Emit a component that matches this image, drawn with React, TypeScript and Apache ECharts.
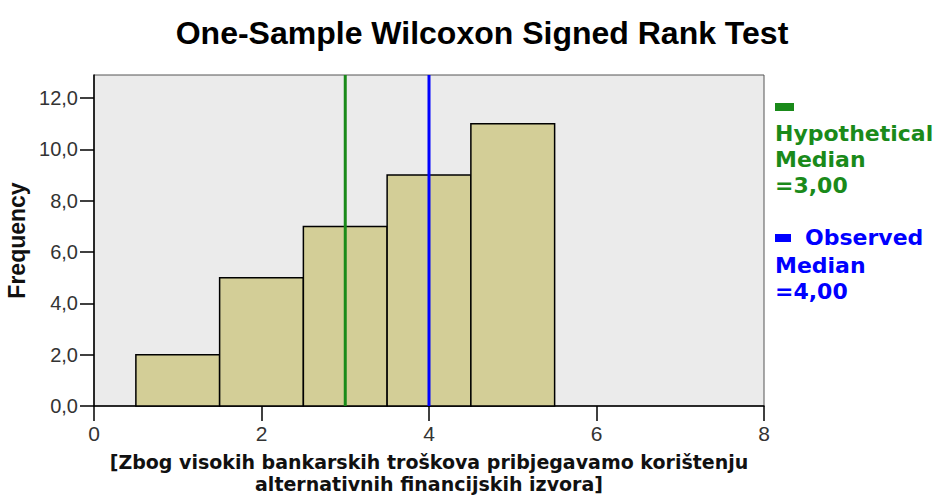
import React, { useEffect, useRef } from "react";
import * as echarts from "echarts";

const binCenters = [1, 2, 3, 4, 5];
const frequencies = [2, 5, 7, 9, 11];
const binWidth = 1;
const hypotheticalMedian = 3;
const observedMedian = 4;
const yTickValues = [0, 2, 4, 6, 8, 10, 12];
const xTickValues = [0, 2, 4, 6, 8];
const yMax = 12.9;
const xMax = 8;
const titleText = "One-Sample Wilcoxon Signed Rank Test";
const xAxisName = "[Zbog visokih bankarskih troškova pribjegavamo korištenju\nalternativnih financijskih izvora]";
const yAxisName = "Frequency";
const hypLegendText = "Hypothetical\nMedian\n=3,00";
const obsLegendFirst = "Observed";
const obsLegendRest = "Median\n=4,00";

const FONT = "'Liberation Sans', Arial, sans-serif";
const WIDE_FONT = "'DejaVu Sans', 'Liberation Sans', sans-serif";
const GREEN = "#1a8a1a";
const BLUE = "#0000ff";

export default function App() {
  const ref = useRef<HTMLDivElement>(null);

  useEffect(() => {
    if (!ref.current) return;
    const chart = echarts.init(ref.current, undefined, { renderer: "svg" });

    const histData = binCenters.map((c, i) => [c, frequencies[i]]);

    const legendText = (text: string, x: number, y: number, color: string) => ({
      type: "text",
      x,
      y,
      style: {
        text,
        fill: color,
        font: `bold 22px ${WIDE_FONT}`,
        lineHeight: 26,
        textAlign: "left",
        textVerticalAlign: "top",
      },
    });

    const option: any = {
      animation: false,
      backgroundColor: "#ffffff",
      grid: {
        left: 94,
        right: 171,
        top: 75,
        bottom: 89,
        show: true,
        backgroundColor: "#ebebeb",
        borderColor: "#555555",
        borderWidth: 1,
        outerBoundsMode: "none",
        containLabel: false,
      },
      xAxis: {
        type: "value",
        min: 0,
        max: xMax,
        interval: 2,
        name: xAxisName,
        nameLocation: "middle",
        nameGap: 45,
        nameTextStyle: {
          fontFamily: WIDE_FONT,
          fontWeight: "bold",
          fontSize: 19,
          color: "#111",
          lineHeight: 22.2,
        },
        axisLine: { show: true, lineStyle: { color: "#000", width: 1.5 } },
        axisTick: {
          show: true,
          length: 15,
          customValues: xTickValues,
          lineStyle: { color: "#000", width: 1.5 },
        },
        axisLabel: {
          customValues: xTickValues,
          fontFamily: FONT,
          fontSize: 21,
          color: "#333",
          margin: 17,
          formatter: (v: number) => String(v),
        },
        splitLine: { show: false },
      },
      yAxis: {
        type: "value",
        min: 0,
        max: yMax,
        interval: 2,
        name: yAxisName,
        nameLocation: "middle",
        nameGap: 60,
        nameTextStyle: {
          fontFamily: FONT,
          fontWeight: "bold",
          fontSize: 23,
          color: "#111",
        },
        axisLine: { show: true, lineStyle: { color: "#000", width: 1.5 } },
        axisTick: {
          show: true,
          length: 14,
          customValues: yTickValues,
          lineStyle: { color: "#000", width: 1.5 },
        },
        axisLabel: {
          customValues: yTickValues,
          fontFamily: FONT,
          fontSize: 20,
          color: "#333",
          margin: 16,
          formatter: (v: number) => v.toFixed(1).replace(".", ","),
        },
        splitLine: { show: false },
      },
      series: [
        {
          type: "custom",
          data: histData,
          z: 2,
          renderItem: (params: any, api: any) => {
            const x = api.value(0);
            const y = api.value(1);
            const p0 = api.coord([x - binWidth / 2, 0]);
            const p1 = api.coord([x + binWidth / 2, y]);
            return {
              type: "rect",
              shape: {
                x: p0[0],
                y: p1[1],
                width: p1[0] - p0[0],
                height: p0[1] - p1[1],
              },
              style: { fill: "#d3ce97", stroke: "#000", lineWidth: 1.5 },
            };
          },
        },
        {
          type: "line",
          data: [
            [hypotheticalMedian, 0],
            [hypotheticalMedian, yMax],
          ],
          symbol: "none",
          z: 5,
          lineStyle: { color: GREEN, width: 3 },
        },
        {
          type: "line",
          data: [
            [observedMedian, 0],
            [observedMedian, yMax],
          ],
          symbol: "none",
          z: 5,
          lineStyle: { color: BLUE, width: 3 },
        },
      ],
      graphic: [
        {
          type: "text",
          x: 482,
          y: 33,
          style: {
            text: titleText,
            fill: "#000",
            font: `bold 32px ${FONT}`,
            textAlign: "center",
            textVerticalAlign: "middle",
          },
        },
        { type: "rect", shape: { x: 775, y: 103, width: 19, height: 8 }, style: { fill: GREEN } },
        legendText(hypLegendText, 775, 120, GREEN),
        { type: "rect", shape: { x: 775, y: 234, width: 16, height: 8 }, style: { fill: BLUE } },
        legendText(obsLegendFirst, 805, 224, BLUE),
        legendText(obsLegendRest, 775, 252, BLUE),
      ],
    };

    chart.setOption(option);
    return () => chart.dispose();
  }, []);

  return (
    <div
      ref={ref}
      style={{ position: "fixed", left: 0, top: 0, width: 935, height: 495 }}
    />
  );
}
